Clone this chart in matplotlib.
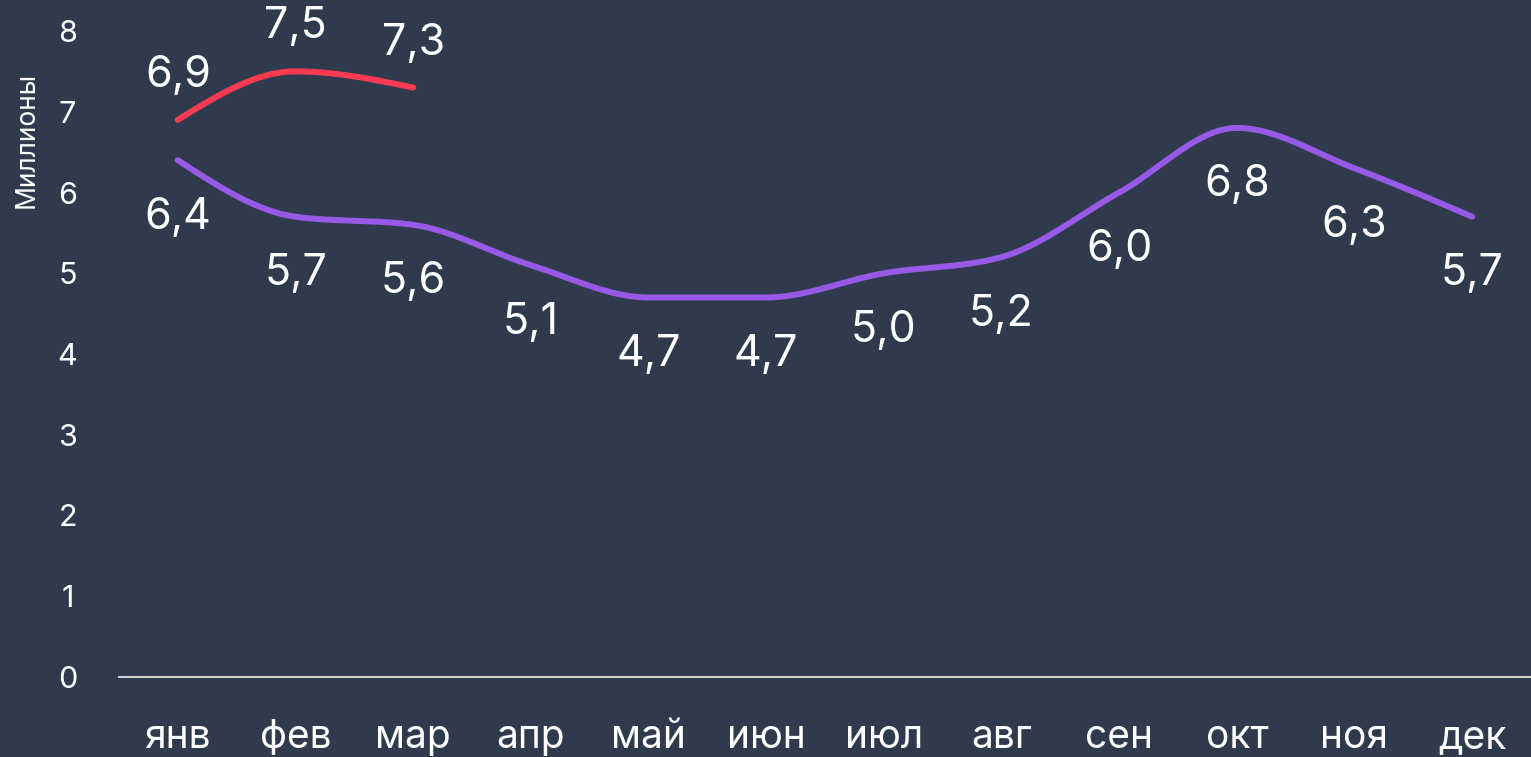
import matplotlib
matplotlib.use("Agg")
import matplotlib.pyplot as plt
import numpy as np

plt.rcParams["font.family"] = ["Inter", "DejaVu Sans"]

months = ["янв", "фев", "мар", "апр", "май", "июн", "июл", "авг", "сен", "окт", "ноя", "дек"]
prev_year = [6.4, 5.7, 5.6, 5.1, 4.7, 4.7, 5.0, 5.2, 6.0, 6.8, 6.3, 5.7]
this_year = [6.9, 7.5, 7.3]

BG = "#2f3b4c"
PURPLE = "#985ae6"
RED = "#fc3b52"


def monotone(x, y, n=40):
    # monotone cubic (like d3 curveMonotoneX)
    x = np.asarray(x, float)
    y = np.asarray(y, float)
    h = np.diff(x)
    s = np.diff(y) / h
    m = np.zeros_like(y)
    for i in range(1, len(y) - 1):
        if s[i - 1] * s[i] <= 0:
            m[i] = 0
        else:
            p = (s[i - 1] * h[i] + s[i] * h[i - 1]) / (h[i - 1] + h[i])
            m[i] = (np.sign(s[i - 1]) + np.sign(s[i])) * min(abs(s[i - 1]), abs(s[i]), 0.5 * abs(p))
    if len(y) > 1:
        m[0] = (3 * s[0] - m[1]) / 2 if len(y) > 2 else s[0]
        m[-1] = (3 * s[-1] - m[-2]) / 2 if len(y) > 2 else s[-1]
    xs, ys = [], []
    for i in range(len(y) - 1):
        t = np.linspace(0, 1, n)
        h00 = 2 * t**3 - 3 * t**2 + 1
        h10 = t**3 - 2 * t**2 + t
        h01 = -2 * t**3 + 3 * t**2
        h11 = t**3 - t**2
        xs.append(x[i] + t * h[i])
        ys.append(h00 * y[i] + h10 * h[i] * m[i] + h01 * y[i + 1] + h11 * h[i] * m[i + 1])
    return np.concatenate(xs), np.concatenate(ys)


fig = plt.figure(figsize=(15.31, 7.57), dpi=100, facecolor=BG)
ax = fig.add_axes([119 / 1531, 80 / 757, 1412 / 1531, 646 / 757])
ax.set_facecolor(BG)

x_prev = np.arange(len(prev_year))
x_this = np.arange(len(this_year))

px, py = monotone(x_prev, prev_year)
ax.plot(px, py, color=PURPLE, lw=4.3, solid_capstyle="round", clip_on=False)
tx, ty = monotone(x_this, this_year)
ax.plot(tx, ty, color=RED, lw=4.3, solid_capstyle="round", clip_on=False)

for xi, v in zip(x_prev, prev_year):
    ax.annotate(f"{v:.1f}".replace(".", ","), (xi, v), xytext=(0, -41), textcoords="offset points",
                ha="center", va="center", color="white", fontsize=31, annotation_clip=False)
for xi, v in zip(x_this, this_year):
    ax.annotate(f"{v:.1f}".replace(".", ","), (xi, v), xytext=(0, 32), textcoords="offset points",
                ha="center", va="center", color="white", fontsize=31, annotation_clip=False)

ax.set_xlim(-0.5, len(months) - 0.5)
ax.set_ylim(0, 8)
ax.set_xticks(x_prev)
ax.set_xticklabels(months)
ax.set_yticks(range(0, 9))
ax.tick_params(axis="x", length=0, pad=30, labelsize=28, labelcolor="white")
ax.tick_params(axis="y", length=0, pad=37, labelsize=22, labelcolor="white")
for lab in ax.get_yticklabels():
    lab.set_horizontalalignment("center")

for sp in ["top", "right", "left"]:
    ax.spines[sp].set_visible(False)
ax.spines["bottom"].set_color("#d0d0d0")
ax.spines["bottom"].set_linewidth(1.5)

fig.text(27 / 1531, 1 - 140 / 757, "Миллионы", rotation=90, ha="center", va="center",
         color="white", fontsize=19)

fig.savefig("out.png", dpi=100, facecolor=BG)
